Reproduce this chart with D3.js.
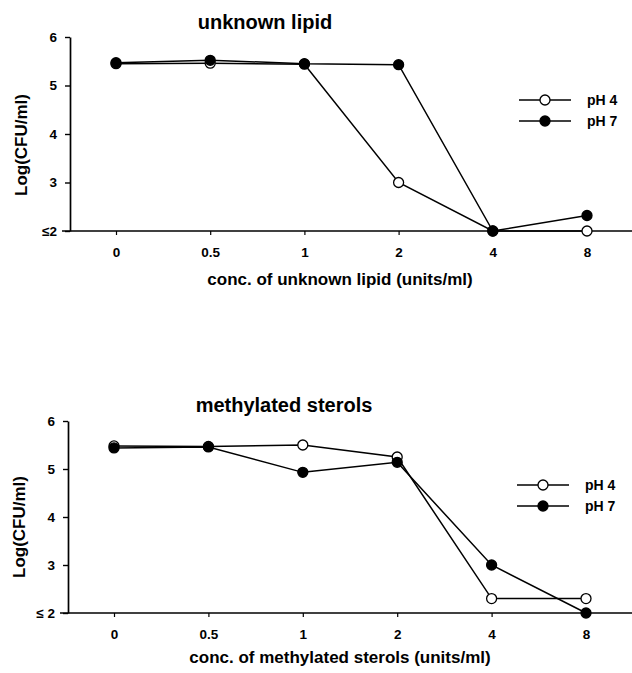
<!DOCTYPE html>
<html>
<head>
<meta charset="utf-8">
<script src="https://cdn.jsdelivr.net/npm/d3@7"></script>
<style>
  html, body { margin: 0; padding: 0; background: #fff; }
  svg text { font-family: "Liberation Sans", Arial, Helvetica, sans-serif; font-weight: bold; fill: #000; }
</style>
</head>
<body>
<div id="chart"></div>
<script>
const concLabels = ['0', '0.5', '1', '2', '4', '8'];
const yTickValues = [2, 3, 4, 5, 6];
const lipidYLabels = ['≤2', '3', '4', '5', '6'];
const sterolYLabels = ['≤ 2', '3', '4', '5', '6'];
const seriesNames = ['pH 4', 'pH 7'];

const lipidPH4 = [5.45, 5.46, 5.44, 3.0, 2.0, 2.0];
const lipidPH7 = [5.47, 5.52, 5.45, 5.43, 2.0, 2.32];
const sterolPH4 = [5.48, 5.47, 5.50, 5.25, 2.30, 2.30];
const sterolPH7 = [5.44, 5.46, 4.93, 5.14, 3.0, 2.0];

const svg = d3.select('#chart').append('svg')
  .attr('width', 632)
  .attr('height', 673);

function drawPanel(opts) {
  const g = svg.append('g');

  const x = d3.scalePoint()
    .domain(concLabels)
    .range([opts.x0, opts.x1]);

  const y = d3.scaleLinear()
    .domain([2, 6])
    .range([opts.yBottom, opts.yTop]);

  // y axis
  const yAxis = g.append('g')
    .attr('transform', `translate(${opts.axisX},0)`)
    .call(d3.axisLeft(y)
      .tickValues(yTickValues)
      .tickSize(5)
      .tickSizeOuter(0)
      .tickPadding(8)
      .tickFormat((d, i) => opts.yLabels[i]));
  yAxis.select('.domain').attr('stroke', '#000').attr('stroke-width', 1.7);
  yAxis.selectAll('.tick line').attr('stroke', '#000').attr('stroke-width', 1.4);
  yAxis.selectAll('text').style('font-size', '13.5px');

  // x axis
  const xAxis = g.append('g')
    .attr('transform', `translate(0,${opts.yBottom})`)
    .call(d3.axisBottom(x)
      .tickSize(4)
      .tickSizeOuter(0)
      .tickPadding(12));
  xAxis.select('.domain').remove();
  xAxis.selectAll('.tick line').attr('stroke', '#000').attr('stroke-width', 1.2);
  xAxis.selectAll('text').style('font-size', '13.5px');

  g.append('line')
    .attr('x1', opts.axisX - 8)
    .attr('x2', 632)
    .attr('y1', opts.yBottom)
    .attr('y2', opts.yBottom)
    .attr('stroke', '#000')
    .attr('stroke-width', 1.7);

  // titles
  g.append('text')
    .attr('x', opts.titleX)
    .attr('y', opts.titleY)
    .attr('text-anchor', 'middle')
    .style('font-size', '20px')
    .text(opts.title);

  g.append('text')
    .attr('x', opts.xTitleX)
    .attr('y', opts.xTitleY)
    .attr('text-anchor', 'middle')
    .style('font-size', '17px')
    .text(opts.xTitle);

  g.append('text')
    .attr('transform', `translate(${opts.yTitleX},${opts.yTitleY}) rotate(-90)`)
    .attr('text-anchor', 'middle')
    .style('font-size', '17px')
    .text('Log(CFU/ml)');

  // lines + points
  const line = d3.line()
    .x((d, i) => x(concLabels[i]))
    .y(d => y(d));

  const series = [
    { name: seriesNames[0], values: opts.ph4, fill: '#fff' },
    { name: seriesNames[1], values: opts.ph7, fill: '#000' }
  ];

  series.forEach(s => {
    g.append('path')
      .datum(s.values)
      .attr('d', line)
      .attr('fill', 'none')
      .attr('stroke', '#000')
      .attr('stroke-width', 1.5);
  });

  series.forEach(s => {
    g.selectAll(null)
      .data(s.values)
      .enter()
      .append('circle')
      .attr('cx', (d, i) => x(concLabels[i]))
      .attr('cy', d => y(d))
      .attr('r', 5)
      .attr('fill', s.fill)
      .attr('stroke', '#000')
      .attr('stroke-width', 1.3);
  });

  // legend
  series.forEach((s, i) => {
    const ly = opts.legendY + i * 21;
    g.append('line')
      .attr('x1', opts.legendX)
      .attr('x2', opts.legendX + 52)
      .attr('y1', ly)
      .attr('y2', ly)
      .attr('stroke', '#000')
      .attr('stroke-width', 1.4);
    g.append('circle')
      .attr('cx', opts.legendX + 26)
      .attr('cy', ly)
      .attr('r', 5)
      .attr('fill', s.fill)
      .attr('stroke', '#000')
      .attr('stroke-width', 1.3);
    g.append('text')
      .attr('x', opts.legendX + 68)
      .attr('y', ly + 5)
      .style('font-size', '14px')
      .text(s.name);
  });
}

drawPanel({
  title: 'unknown lipid',
  xTitle: 'conc. of unknown lipid (units/ml)',
  yLabels: lipidYLabels,
  ph4: lipidPH4,
  ph7: lipidPH7,
  x0: 116, x1: 587,
  axisX: 70,
  yTop: 37, yBottom: 231,
  titleX: 265, titleY: 29,
  xTitleX: 340, xTitleY: 285,
  yTitleX: 27, yTitleY: 145,
  legendX: 519, legendY: 100
});

drawPanel({
  title: 'methylated sterols',
  xTitle: 'conc. of methylated sterols (units/ml)',
  yLabels: sterolYLabels,
  ph4: sterolPH4,
  ph7: sterolPH7,
  x0: 114, x1: 586,
  axisX: 68,
  yTop: 421, yBottom: 613,
  titleX: 284, titleY: 412,
  xTitleX: 340, xTitleY: 663,
  yTitleX: 25, yTitleY: 527,
  legendX: 517, legendY: 485
});
</script>
</body>
</html>
